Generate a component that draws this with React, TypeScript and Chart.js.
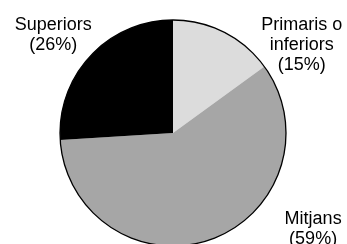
import React, { useEffect, useRef } from "react";
import { Chart, registerables } from "chart.js";

Chart.register(...registerables);

const categories = ["Primaris o inferiors", "Mitjans", "Superiors"];
const labelLines = [["Primaris o", "inferiors", "(15%)"], ["Mitjans", "(59%)"], ["Superiors", "(26%)"]];
const values = [15, 59, 26];
const colors = ["#dcdcdc", "#a6a6a6", "#000000"];

// label anchor: x factor of radius, first baseline factor of radius
const anchors = [
  { fx: 1.14, fy: -0.91 },
  { fx: 1.24, fy: 0.805 },
  { fx: -1.06, fy: -0.91 },
];

const outlineAndLabels = {
  id: "outlineAndLabels",
  afterDatasetsDraw(chart: any) {
    const meta = chart.getDatasetMeta(0);
    const arc = meta.data[0];
    if (!arc) return;
    const { x, y, outerRadius } = arc.getProps(["x", "y", "outerRadius"], true);
    const ctx = chart.ctx;
    ctx.save();
    ctx.beginPath();
    ctx.arc(x, y, outerRadius, 0, Math.PI * 2);
    ctx.lineWidth = 1.3;
    ctx.strokeStyle = "#000";
    ctx.stroke();
    ctx.font = "18px 'Liberation Sans', Arial, sans-serif";
    ctx.fillStyle = "#000";
    ctx.textAlign = "center";
    ctx.textBaseline = "alphabetic";
    labelLines.forEach((lines, i) => {
      const a = anchors[i];
      const lx = x + a.fx * outerRadius;
      const ly = y + a.fy * outerRadius;
      lines.forEach((t, j) => ctx.fillText(t, lx, ly + j * 20));
    });
    ctx.restore();
  },
};

export default function App() {
  const ref = useRef<HTMLCanvasElement>(null);
  useEffect(() => {
    document.body.style.margin = "0";
    const chart = new Chart(ref.current!, {
      type: "pie",
      data: {
        labels: categories,
        datasets: [
          {
            data: values,
            backgroundColor: colors,
            borderWidth: 0,
          },
        ],
      },
      options: {
        responsive: false,
        animation: false,
        radius: 113,
        layout: { padding: { left: 0, right: 1, top: 0, bottom: 0 } },
        plugins: { legend: { display: false }, tooltip: { enabled: false } },
      } as any,
      plugins: [outlineAndLabels],
    });
    return () => chart.destroy();
  }, []);
  return (
    <div style={{ width: 347, height: 244, overflow: "hidden", background: "#fff" }}>
      <canvas ref={ref} width={347} height={266} style={{ display: "block" }} />
    </div>
  );
}
